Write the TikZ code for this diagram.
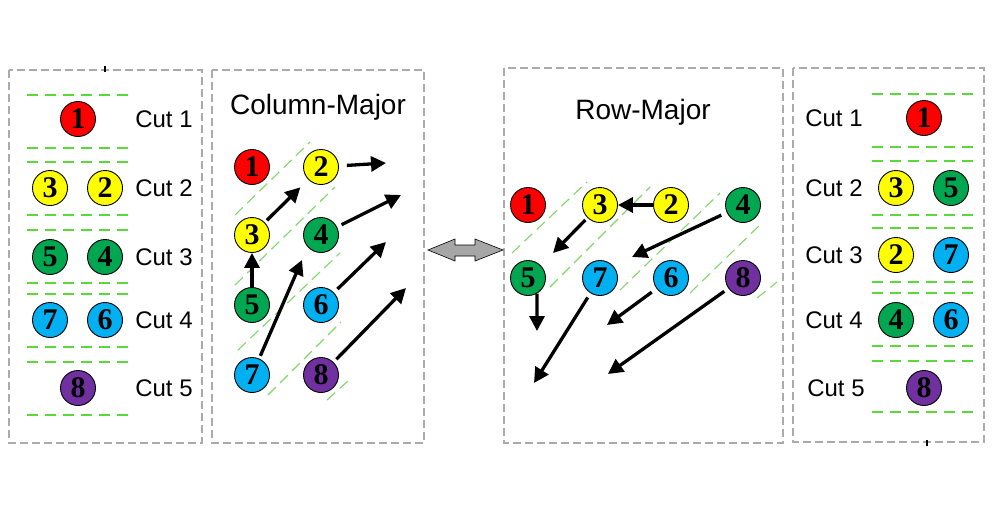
\documentclass[tikz,border=0pt]{standalone}
\usepackage{fontspec}
\setmainfont{Liberation Serif}
\newfontfamily\labelfont{Liberation Sans}
\usetikzlibrary{arrows.meta}
\definecolor{cred}{HTML}{FF0000}
\definecolor{cyellow}{HTML}{FFFF00}
\definecolor{cgreen}{HTML}{00A650}
\definecolor{cblue}{HTML}{00B0F0}
\definecolor{cpurple}{HTML}{7030A0}
\definecolor{cutgreen}{HTML}{5BD93A}
\definecolor{diaggreen}{HTML}{7FD86A}
\definecolor{boxgray}{HTML}{ABABAB}
\definecolor{arrowgray}{HTML}{A6A6A6}
\tikzset{
  ball/.style={circle, draw=black, line width=0.9pt, minimum size=35pt, inner sep=0pt,
     font=\fontsize{30}{30}\selectfont\bfseries},
  rd/.style={ball, fill=cred},
  yl/.style={ball, fill=cyellow},
  gr/.style={ball, fill=cgreen},
  bl/.style={ball, fill=cblue},
  pu/.style={ball, fill=cpurple},
  panel/.style={draw=boxgray, line width=1.5pt, dash pattern=on 8pt off 4pt},
  cutline/.style={draw=cutgreen, line width=2.3pt, dash pattern=on 11pt off 7pt},
  diagline/.style={draw=diaggreen, line width=1.1pt, dash pattern=on 11pt off 6pt},
  cutlabel/.style={font=\labelfont\fontsize{24}{24}\selectfont, inner sep=0pt},
  titlelabel/.style={font=\labelfont\fontsize{28}{28}\selectfont, inner sep=0pt},
  flow/.style={line width=3.3pt, -{Triangle[length=15pt,width=15pt]}},
}
\begin{document}
\begin{tikzpicture}[x=1pt,y=-1pt]
\useasboundingbox[fill=white] (0,0) rectangle (1002,515);

% panels
\draw[panel] (9,70) rectangle (202,443);
\draw[panel] (212,70) rectangle (424,443);
\draw[panel] (504,68) rectangle (783,443);
\draw[panel] (793,68) rectangle (984,442);
\draw[line width=1.5pt] (105,66) -- (105,72);
\draw[line width=1.5pt] (927,440) -- (927,446);

% ---------- left panel: cuts ----------
\foreach \y in {95,148,162,215,230,283,294,347,362,415}
  \draw[cutline] (27,\y) -- (135,\y);
\node[rd] (a1) at (78,119) {1};
\node[yl] (a3) at (50,188) {3};
\node[yl] (a2) at (105,188) {2};
\node[gr] (a5) at (50,257) {5};
\node[gr] (a4) at (105,257) {4};
\node[bl] (a7) at (50,320) {7};
\node[bl] (a6) at (105,320) {6};
\node[pu] (a8) at (78,388) {8};
\node[cutlabel] (la1) at (164,119) {Cut 1};
\node[cutlabel] (la2) at (164,188) {Cut 2};
\node[cutlabel] (la3) at (164,257) {Cut 3};
\node[cutlabel] (la4) at (164,320) {Cut 4};
\node[cutlabel] (la5) at (164,388) {Cut 5};

% ---------- column-major ----------
\node[titlelabel] (tcol) at (318,107) {Column-Major};
\draw[diagline] (235,215) -- (310,142);
\draw[diagline] (235,285) -- (335,187);
\draw[diagline] (238,350) -- (340,253);
\draw[diagline] (268,395) -- (341,322);
\draw[diagline] (327,400) -- (349,380);
\node[rd] (b1) at (252,167) {1};
\node[yl] (b2) at (321,167) {2};
\node[yl] (b3) at (252,235) {3};
\node[gr] (b4) at (321,235) {4};
\node[gr] (b5) at (252,305) {5};
\node[bl] (b6) at (321,305) {6};
\node[bl] (b7) at (252,375) {7};
\node[pu] (b8) at (321,375) {8};
\coordinate (e2) at (386,163);
\coordinate (e4) at (401,195);
\coordinate (e7) at (302,260);
\coordinate (e6) at (386,242);
\coordinate (e8) at (406,288);
\draw[flow, shorten <=8pt] (b2) -- (e2);
\draw[flow, shorten <=3pt, shorten >=11pt] (b3) -- (b2);
\draw[flow, shorten <=5pt] (b4) -- (e4);
\draw[flow] (b5) -- (b3);
\draw[flow, shorten <=3pt] (b7) -- (e7);
\draw[flow, shorten <=5pt] (b6) -- (e6);
\draw[flow, shorten <=4pt] (b8) -- (e8);

% ---------- double arrow ----------
\draw[fill=arrowgray, draw=black, line width=0.6pt]
  (428,250) -- (455,239) -- (455,245) -- (475,245) -- (475,239) -- (503,250)
  -- (475,261) -- (475,256) -- (455,256) -- (455,261) -- cycle;

% ---------- row-major ----------
\node[titlelabel] (trow) at (643,112) {Row-Major};
\draw[diagline] (512,253) -- (587,182);
\draw[diagline] (550,287) -- (650,187);
\draw[diagline] (620,290) -- (720,193);
\draw[diagline] (690,293) -- (763,222);
\draw[diagline] (757,298) -- (777,282);
\node[rd] (c1) at (528,205) {1};
\node[yl] (c3) at (600,205) {3};
\node[yl] (c2) at (671,205) {2};
\node[gr] (c4) at (743,205) {4};
\node[gr] (c5) at (528,278) {5};
\node[bl] (c7) at (600,278) {7};
\node[bl] (c6) at (671,278) {6};
\node[pu] (c8) at (743,278) {8};
\coordinate (f3) at (553,253);
\coordinate (f4) at (632,257);
\coordinate (f5) at (537,331);
\coordinate (f7) at (534,383);
\coordinate (f6) at (607,325);
\coordinate (f8) at (608,374);
\draw[flow] (c2) -- (c3);
\draw[flow, shorten <=3pt] (c3) -- (f3);
\draw[flow, shorten <=6pt] (c4) -- (f4);
\draw[flow] (c5.-60) -- (f5);
\draw[flow, shorten <=5pt] (c7) -- (f7);
\draw[flow, shorten <=6pt] (c6) -- (f6);
\draw[flow, shorten <=5pt] (c8) -- (f8);

% ---------- right panel: cuts ----------
\foreach \y in {94,147,161,215,228,282,293,346,361,412}
  \draw[cutline] (872,\y) -- (980,\y);
\node[rd] (d1) at (924,118) {1};
\node[yl] (d3) at (896,188) {3};
\node[gr] (d5) at (951,188) {5};
\node[yl] (d2) at (896,255) {2};
\node[bl] (d7) at (951,255) {7};
\node[gr] (d4) at (896,320) {4};
\node[bl] (d6) at (951,320) {6};
\node[pu] (d8) at (924,388) {8};
\node[cutlabel] (ld1) at (834,118) {Cut 1};
\node[cutlabel] (ld2) at (834,188) {Cut 2};
\node[cutlabel] (ld3) at (834,255) {Cut 3};
\node[cutlabel] (ld4) at (834,320) {Cut 4};
\node[cutlabel] (ld5) at (836,388) {Cut 5};
\end{tikzpicture}
\end{document}
